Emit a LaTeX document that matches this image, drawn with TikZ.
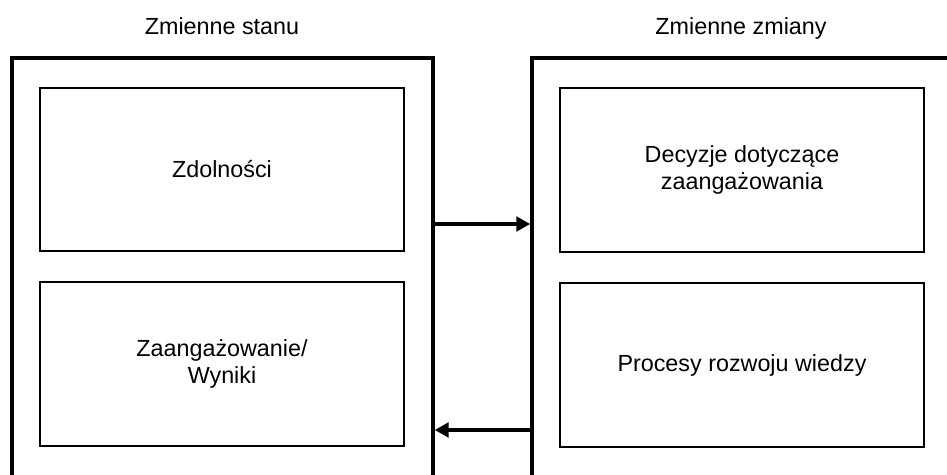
\documentclass[tikz,border=0pt]{standalone}
\usepackage{fontspec}
\setmainfont{Liberation Sans}
\usetikzlibrary{arrows.meta}

\begin{document}
\begin{tikzpicture}[x=0.75pt, y=-0.75pt,
        every node/.style={font=\fontsize{17.5}{20}\selectfont, align=center},
        outerbox/.style={draw, line width=2.6pt, minimum height=346.5pt},
        innerbox/.style={draw, line width=1.5pt, minimum width=273pt, minimum height=122.5pt},
        flow/.style={line width=2.6pt, -{Triangle[length=10.5pt, width=11pt]}}]
        \useasboundingbox (0,0) rectangle (947,475);
        \clip (0,0) rectangle (947,475);

        % Titles
        \node[anchor=base] (tstan) at (222,34) {Zmienne stanu};
        \node[anchor=base] (tzm) at (741,34) {Zmienne zmiany};

        % Outer boxes
        \node[outerbox, minimum width=315.75pt] (stan) at (222.5,289) {};
        \node[outerbox, minimum width=336pt] (zmiana) at (756,289) {};

        % Inner boxes
        \node[innerbox] (zdol) at (222,169.5) {Zdolności};
        \node[innerbox] (wyn) at (222,364) {Zaangażowanie/\\Wyniki};
        \node[innerbox] (decyz) at (742,170) {Decyzje dotyczące\\zaangażowania};
        \node[innerbox] (proc) at (742,365) {Procesy rozwoju wiedzy};

        % Arrows
        \coordinate (up) at (0,224);
        \coordinate (down) at (0,430);
        \draw[flow] (stan.east |- up) -- (zmiana.west |- up);
        \draw[flow] (zmiana.west |- down) -- (stan.east |- down);
    \end{tikzpicture}
\end{document}
